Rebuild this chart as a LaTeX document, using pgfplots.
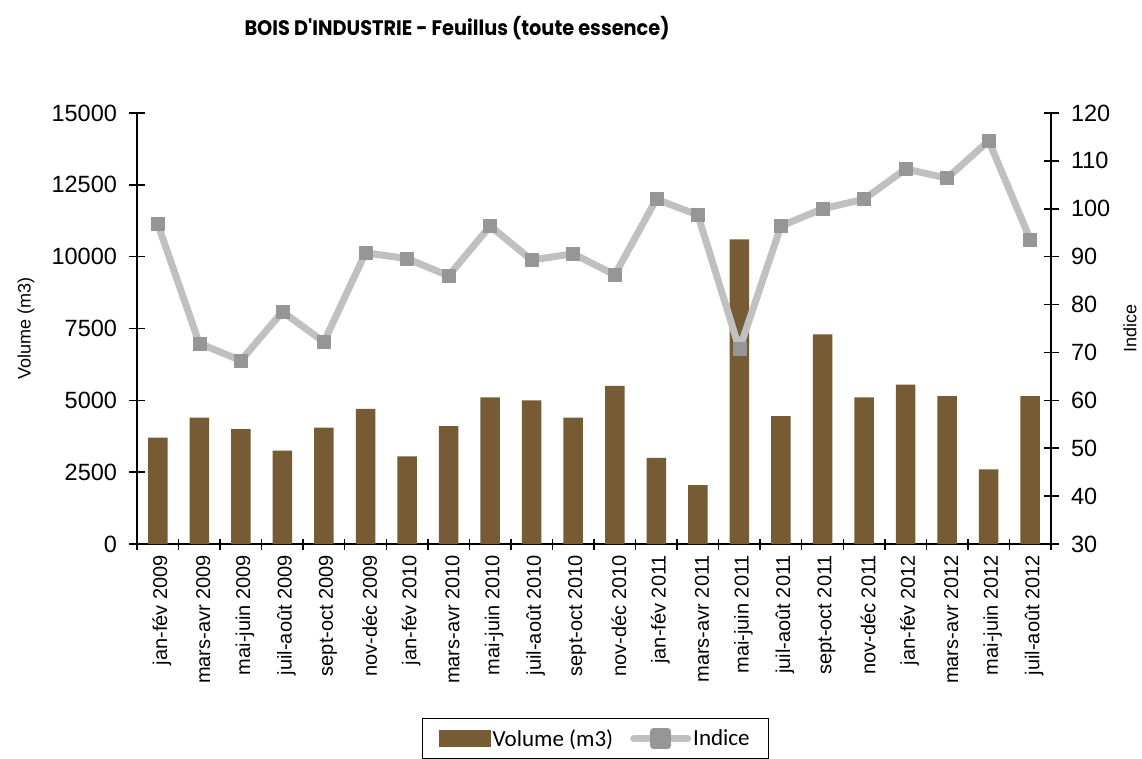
\documentclass[border=0pt]{standalone}
\usepackage{pgfplots}
\pgfplotsset{compat=1.18}
\usepackage{fontspec}
\setmainfont{Liberation Sans}
\newfontfamily\legfont{Carlito}
\newfontfamily\titlefont{Poppins}
\usepackage{graphicx}
\definecolor{barbrown}{HTML}{765B34}
\definecolor{linegray}{HTML}{C0C0C0}
\definecolor{markgray}{HTML}{969696}
\begin{document}
\begin{tikzpicture}
\useasboundingbox (0pt,0pt) rectangle (1142pt,-759pt);
\pgfplotsset{
  every axis/.append style={
    scale only axis, width=914pt, height=431pt,
    xmin=-0.5, xmax=21.5,
    at={(137pt,-544pt)}, anchor=south west,
    /pgf/number format/assume math mode=true,
    /pgf/number format/1000 sep={},
    axis line style={line width=1.5pt, black},
    every tick/.style={black, line width=1.5pt},
    tick align=center, major tick length=15pt, minor tick length=11pt,
    scaled y ticks=false,
  },
}
\begin{axis}[
  axis x line*=bottom, axis y line*=left,
  ymin=0, ymax=15000, ytick={0,2500,...,15000},
  yticklabel style={font=\fontsize{23.5}{27}\selectfont, xshift=-9pt},
  xtick={0,...,21},
  major x tick style={draw=none},
  minor xtick={-0.5,0.5,...,21.5},
  minor x tick style={draw=black, line width=1.5pt},
  xticklabels={jan-fév 2009, mars-avr 2009, mai-juin 2009, juil-août 2009, sept-oct 2009, nov-déc 2009, jan-fév 2010, mars-avr 2010, mai-juin 2010, juil-août 2010, sept-oct 2010, nov-déc 2010, jan-fév 2011, mars-avr 2011, mai-juin 2011, juil-août 2011, sept-oct 2011, nov-déc 2011, jan-fév 2012, mars-avr 2012, mai-juin 2012, juil-août 2012},
  xticklabel style={rotate=90, anchor=east, font=\fontsize{20}{24}\selectfont, yshift=-4pt},
  ylabel={Volume (m3)},
  every axis y label/.style={at={(axis description cs:-0.1214,0.5)}, rotate=90, anchor=center, font=\fontsize{18}{22}\selectfont},
]
\addplot[ybar, bar width=19.5pt, fill=barbrown, draw=none] coordinates {
(0,3700) (1,4400) (2,4000) (3,3250) (4,4050) (5,4700) (6,3050) (7,4100)
(8,5100) (9,5000) (10,4400) (11,5500) (12,3000) (13,2050) (14,10600) (15,4450)
(16,7300) (17,5100) (18,5550) (19,5150) (20,2600) (21,5150)};
\end{axis}
\begin{axis}[
  axis x line=none, axis y line*=right,
  ymin=30, ymax=120, ytick={30,40,...,120},
  yticklabel style={font=\fontsize{23.5}{27}\selectfont, xshift=9pt},
  ylabel={Indice},
  every axis y label/.style={at={(axis description cs:1.0864,0.5)}, rotate=90, anchor=center, font=\fontsize{18}{22}\selectfont},
  legend columns=2,
  legend style={at={(axis description cs:0.5017,-0.4037)}, anchor=north, draw=black, line width=1.2pt,
    font=\legfont\fontsize{23}{27}\selectfont, inner xsep=17pt, inner ysep=9pt,
    /tikz/every even column/.append style={column sep=15pt}},
]
\addlegendimage{legend image code/.code={\fill[barbrown] (0pt,-8pt) rectangle (50pt,8pt);}}
\addlegendentry{Volume (m3)}
\addplot[linegray, line width=7pt, line join=round, mark=square*, mark size=6.5pt,
  mark options={fill=markgray, draw=markgray, line width=0.5pt},
  legend image code/.code={\draw[linegray, line width=7pt, line cap=round] (4pt,0pt) -- (58pt,0pt); \fill[markgray] (24pt,-7pt) rectangle (38pt,7pt);}]
 coordinates {
(0,96.8) (1,71.9) (2,68.3) (3,78.5) (4,72.2) (5,90.8) (6,89.6) (7,86.0)
(8,96.4) (9,89.3) (10,90.6) (11,86.2) (12,102.0) (13,98.7) (14,70.7) (15,96.4)
(16,100.0) (17,102.0) (18,108.3) (19,106.4) (20,114.2) (21,93.6)};
\addlegendentry{Indice}
\end{axis}
\node at (457pt,-28pt) {\resizebox{425pt}{\height}{\titlefont\bfseries\fontsize{21}{25}\selectfont BOIS D'INDUSTRIE - Feuillus (toute essence)}};
\end{tikzpicture}
\end{document}
